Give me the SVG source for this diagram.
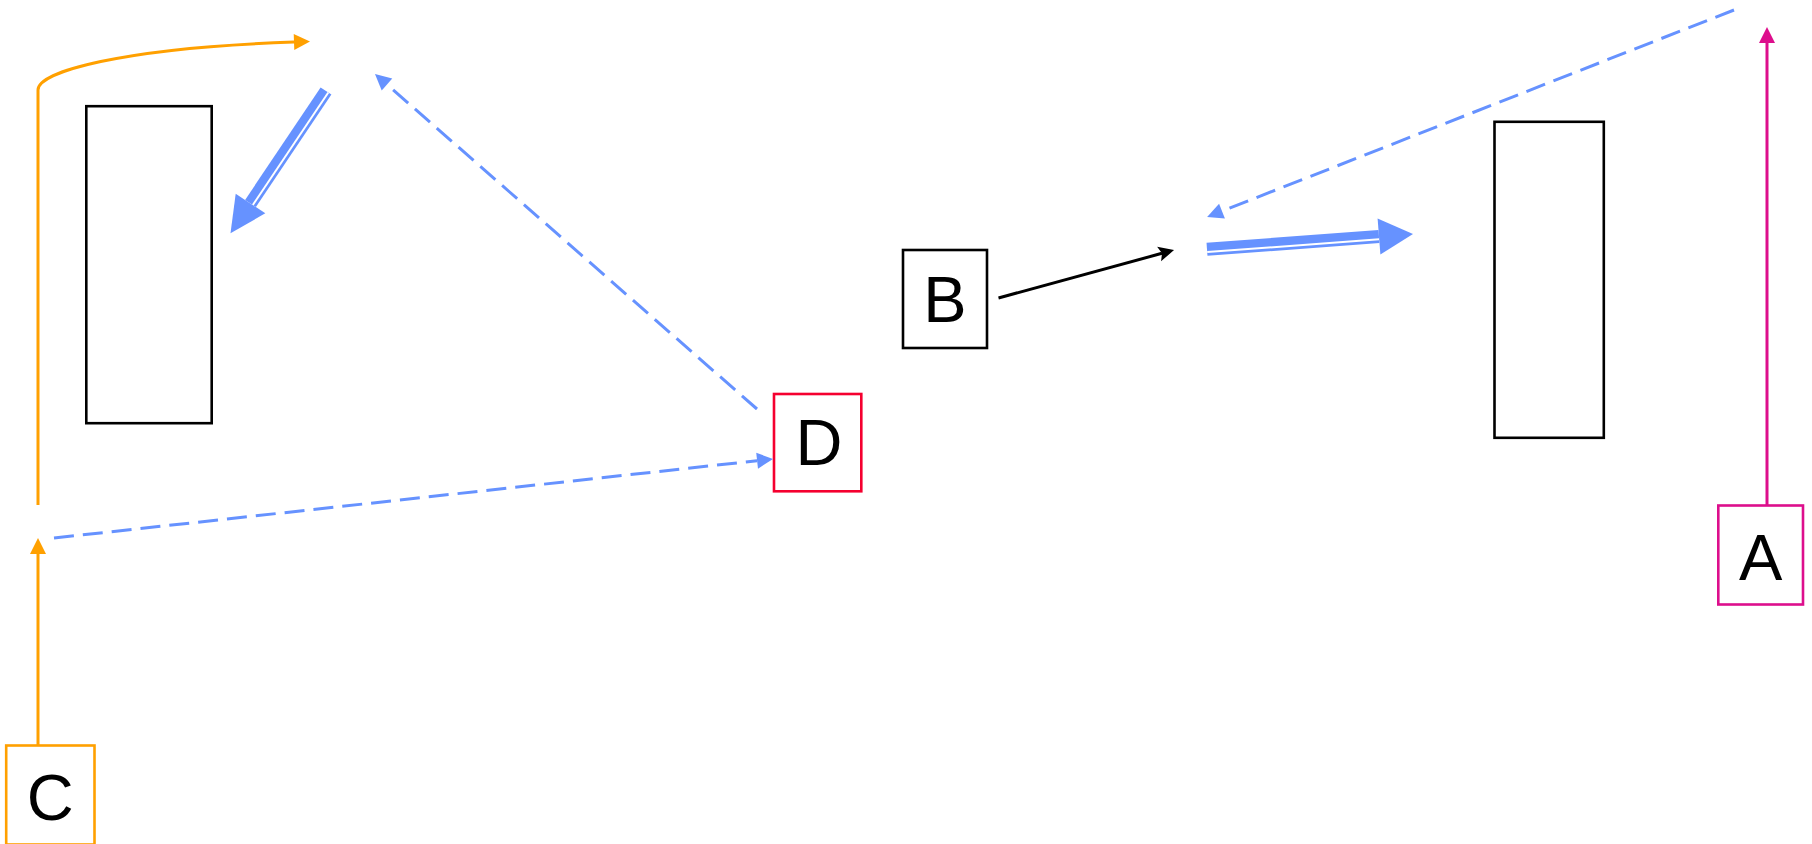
<svg xmlns="http://www.w3.org/2000/svg" width="1812" height="844" viewBox="0 0 1812 844">
<style>
.box{fill:#fff;stroke-width:2.6}
.lbl{font-family:"Liberation Sans",Arial,sans-serif;font-size:65px;fill:#000;text-anchor:middle}
.c{fill:none;stroke-width:3}
.dash{stroke:#6692ff;stroke-dasharray:20 9}
</style>
<defs>
<marker id="mBlue" markerUnits="userSpaceOnUse" markerWidth="17" markerHeight="17" viewBox="0 -8.5 17 17" refX="0" refY="0" orient="auto" overflow="visible"><path d="M0,-8 L16,0 L0,8 z" fill="#6692ff"/></marker>
<marker id="mOrange" markerUnits="userSpaceOnUse" markerWidth="17" markerHeight="17" viewBox="0 -8.5 17 17" refX="0" refY="0" orient="auto" overflow="visible"><path d="M0,-8 L16,0 L0,8 z" fill="#ffa000"/></marker>
<marker id="mPink" markerUnits="userSpaceOnUse" markerWidth="17" markerHeight="17" viewBox="0 -8.5 17 17" refX="0" refY="0" orient="auto" overflow="visible"><path d="M0,-8 L16,0 L0,8 z" fill="#dd0e8c"/></marker>
<marker id="mBlack" markerUnits="userSpaceOnUse" markerWidth="17" markerHeight="17" viewBox="0 -8.5 17 17" refX="3" refY="0" orient="auto" overflow="visible"><path d="M0,-7.5 L15.5,0 L0,7.5 L3,0 z" fill="#000"/></marker>
</defs>
<g id="rect-left"><rect class="box" x="86.3" y="106.2" width="125.4" height="317" stroke="#000"/></g>
<g id="rect-right"><rect class="box" x="1494.5" y="121.8" width="109.3" height="316" stroke="#000"/></g>
<g id="node-B"><rect class="box" x="903" y="250" width="84" height="98" stroke="#000"/><text class="lbl" x="945" y="322">B</text></g>
<g id="node-D"><rect class="box" x="774" y="394" width="87.3" height="97.3" stroke="#f5002f"/><text class="lbl" x="819" y="464.5">D</text></g>
<g id="node-A"><rect class="box" x="1718.3" y="505.5" width="84.7" height="99" stroke="#dd0e8c"/><text class="lbl" x="1760.7" y="579.5">A</text></g>
<g id="node-C"><rect class="box" x="6.2" y="745.5" width="88.3" height="99" stroke="#ffa000"/><text class="lbl" x="50.3" y="820">C</text></g>
<g id="connectors">
<path class="c" stroke="#ffa000" d="M38,505 L38,90 C38,72 120,48 294,42" marker-end="url(#mOrange)"/>
<path class="c" stroke="#ffa000" d="M38,745 L38,554" marker-end="url(#mOrange)"/>
<path class="c" stroke="#dd0e8c" d="M1767,505 L1767,43" marker-end="url(#mPink)"/>
<path class="c dash" d="M757,409 L387,84.5" marker-end="url(#mBlue)"/>
<path class="c dash" d="M54,538 L757.1,460.7" marker-end="url(#mBlue)"/>
<path class="c dash" d="M1734,10 L1222,211.1" marker-end="url(#mBlue)"/>
<path class="c" stroke="#000" stroke-width="2.5" d="M998.5,298 L1162,253.3" marker-end="url(#mBlack)"/>
<g id="double-left">
<path d="M326,91 L250.5,203.5" stroke="#6692ff" stroke-width="13" fill="none"/>
<path d="M328.3,92.5 L252.8,205" stroke="#fff" stroke-width="2" fill="none"/>
<path d="M230.5,233.3 L265.3,213.3 L235.7,193.7 z" fill="#6692ff"/>
</g>
<g id="double-right">
<path d="M1207,249.3 L1379,236.5" stroke="#6692ff" stroke-width="13" fill="none"/>
<path d="M1207.2,252.1 L1379.2,239.3" stroke="#fff" stroke-width="2" fill="none"/>
<path d="M1413,234 L1380.4,254.5 L1377.6,218.5 z" fill="#6692ff"/>
</g>
</g>
</svg>
